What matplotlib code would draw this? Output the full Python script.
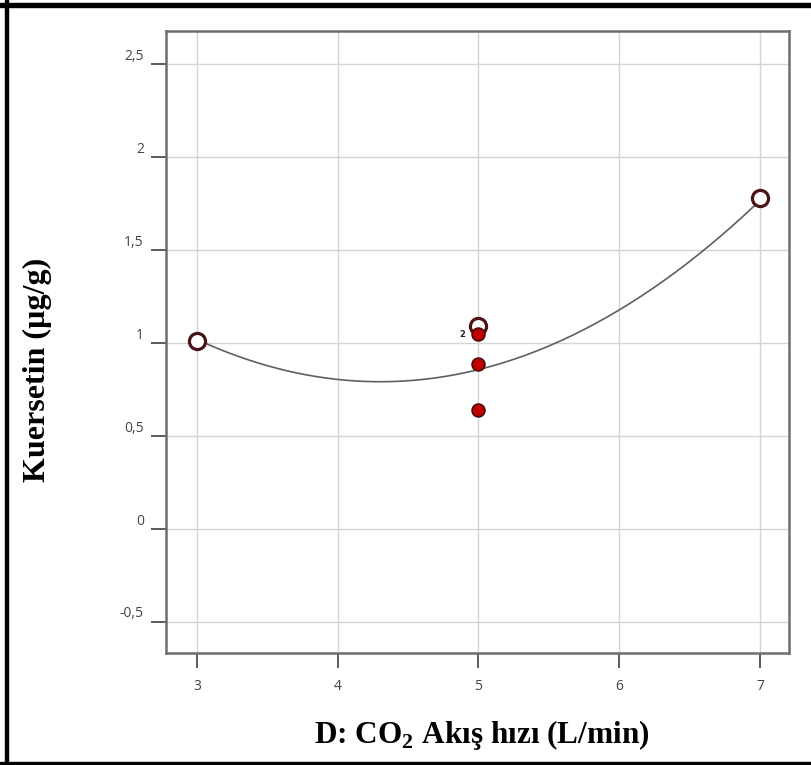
import matplotlib
matplotlib.use("Agg")
import matplotlib.pyplot as plt
import matplotlib.transforms as mtransforms
from matplotlib.patches import Rectangle
import numpy as np

plt.rcParams["mathtext.fontset"] = "custom"
plt.rcParams["mathtext.rm"] = "Liberation Serif"
plt.rcParams["mathtext.bf"] = "Liberation Serif:bold"

# ---- data ----
design_x = [3, 5, 7]
design_y = [1.01, 1.09, 1.78]          # open circles
obs_x = [5, 5, 5]
obs_y = [1.05, 0.89, 0.64]             # red filled points
obs_count_label = "2"                  # replicate count at (5, 1.05)
curve_coef = [0.134, -1.153, 3.273]    # quadratic model: a*x^2 + b*x + c
x_ticks = [3, 4, 5, 6, 7]
x_ticklabels = ["3", "4", "5", "6", "7"]
y_ticks = [-0.5, 0, 0.5, 1, 1.5, 2, 2.5]
y_ticklabels = ["-0,5", "0", "0,5", "1", "1,5", "2", "2,5"]
xlabel = "D: CO$_\\mathbf{2}$ Akış hızı (L/min)"
ylabel = "Kuersetin (µg/g)"

fig = plt.figure(figsize=(8.11, 7.65), dpi=100)
ax = fig.add_axes([166/811, 1-653/765, (789-166)/811, (653-31)/765])

xs = np.linspace(3, 7, 200)
ax.plot(xs, np.polyval(curve_coef, xs), color="#5f5f5f", lw=1.2, zorder=3)

ax.scatter(design_x, design_y, s=135, facecolor="white", edgecolor="#4a1416",
           linewidth=2.3, zorder=4)
ax.scatter(obs_x, obs_y, s=85, facecolor="#c00000", edgecolor="#4a0a0a",
           linewidth=1.2, zorder=5)
ax.annotate(obs_count_label, (obs_x[0], obs_y[0]), xytext=(-16, -1),
            textcoords="offset pixels", fontsize=6, fontweight="bold",
            ha="center", va="center", color="#222222")

ax.set_xlim(2.78, 7.206)
ax.set_ylim(-0.667, 2.68)
ax.set_xticks(x_ticks)
ax.set_xticklabels(x_ticklabels)
ax.set_yticks(y_ticks)
ax.set_yticklabels(y_ticklabels)
ax.grid(True, color="#d4d4d4", lw=1.0)
ax.set_axisbelow(True)
for sp in ax.spines.values():
    sp.set_color("#6e6e6e")
    sp.set_linewidth(1.8)
ax.tick_params(direction="out", length=11, width=1.4, color="#5a5a5a",
               labelsize=10, labelcolor="#444444")
ax.tick_params(axis="x", pad=8)
ax.tick_params(axis="y", pad=5)
for lab in ax.get_xticklabels() + ax.get_yticklabels():
    lab.set_family("Open Sans")
offset = mtransforms.ScaledTranslation(0, 0.1, fig.dpi_scale_trans)
for lab in ax.get_yticklabels():
    lab.set_transform(lab.get_transform() + offset)

fig.text(482/811, 1-735/765, xlabel, ha="center", va="center",
         fontsize=22.5, fontweight="bold", family="Liberation Serif")
fig.text(37/811, 1-370/765, ylabel, ha="center", va="center", rotation=90,
         fontsize=23, fontweight="bold", family="Liberation Serif")

# outer frame
fig.patches.append(Rectangle((5/811, 0), 3/811, 1, transform=fig.transFigure,
                             color="black", zorder=10))
fig.patches.append(Rectangle((0, 1-6.5/765), 1, 3.5/765, transform=fig.transFigure,
                             color="black", zorder=10))
fig.patches.append(Rectangle((0, 0), 1, 3/765, transform=fig.transFigure,
                             color="black", zorder=10))

fig.savefig("out.png", dpi=100)
